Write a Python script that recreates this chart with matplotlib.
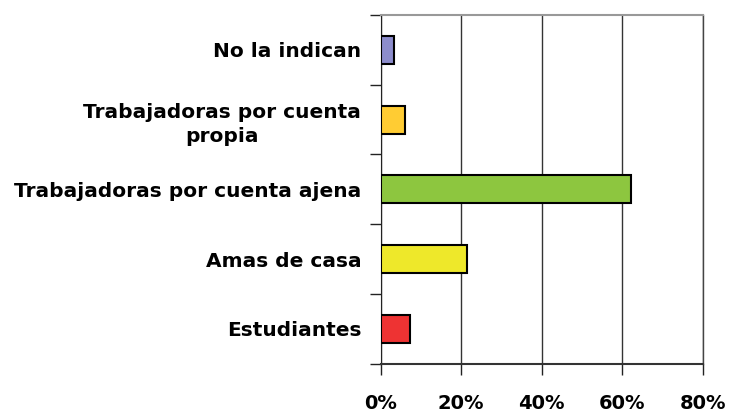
import numpy as np
import matplotlib.pyplot as plt
from matplotlib.ticker import FixedLocator, PercentFormatter

categories = ["Estudiantes", "Amas de casa", "Trabajadoras por cuenta ajena",
              "Trabajadoras por cuenta\npropia", "No la indican"]
values = [7.4, 21.4, 62.1, 6.0, 3.4]
colors = ["#EE3333", "#EEE82A", "#8DC63F", "#FFCC33", "#8C8CCC"]
xticks = [0, 20, 40, 60, 80]

plt.rcParams["font.family"] = ["DejaVu Sans"]

fig = plt.figure(figsize=(7.32, 4.13), dpi=100)
ax = fig.add_axes([0.520, 0.119, 0.440, 0.845])

y = np.arange(len(categories))
ax.barh(y, values, height=0.4, color=colors, edgecolor="black", linewidth=1.5, zorder=3)

ax.set_xlim(0, 80)
ax.set_ylim(-0.5, len(categories) - 0.5)
ax.set_xticks(xticks)
ax.xaxis.set_major_formatter(PercentFormatter(decimals=0))
ax.set_yticks(y)
ax.set_yticklabels(categories, multialignment="center", linespacing=1.35)
ax.yaxis.set_minor_locator(FixedLocator(np.arange(-0.5, len(categories), 1.0)))

ax.tick_params(axis="y", which="major", length=0, pad=14)
ax.tick_params(axis="y", which="minor", length=8, width=1, color="#222222")
ax.tick_params(axis="x", length=8, width=1, pad=14, color="#222222")
for lbl in ax.get_xticklabels():
    lbl.set_fontsize(14)
    lbl.set_fontweight("bold")
for lbl in ax.get_yticklabels():
    lbl.set_fontsize(14.5)
    lbl.set_fontweight("bold")

ax.grid(axis="x", color="#333333", linewidth=1, zorder=0)
ax.spines["right"].set_color("#444444")
ax.spines["right"].set_linewidth(1)
ax.spines["top"].set_color("#999999")
ax.spines["top"].set_linewidth(1.5)
ax.spines["left"].set_color("#222222")
ax.spines["bottom"].set_color("#333333")
ax.spines["bottom"].set_linewidth(1.5)

fig.savefig("out.png", dpi=100)
